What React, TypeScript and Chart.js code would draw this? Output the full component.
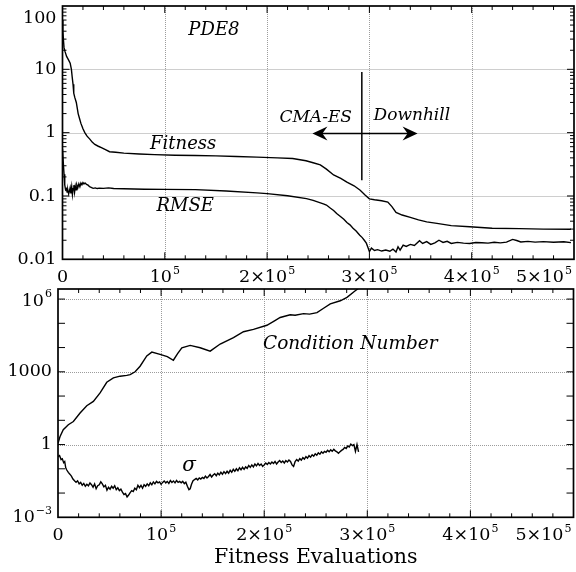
import React, { useEffect, useRef } from 'react';
import { Chart, registerables } from 'chart.js';

Chart.register(...registerables);

// ---------------- data ----------------
const fitnessEvals = [
  0, 400, 1000, 1500, 2500, 4000, 6000, 7500, 8700, 9500, 10300, 11000, 12000, 13500, 15300, 16500, 18000,
  20000, 21800, 24000, 26700, 29000, 31600, 35000, 38000, 42000, 46000, 52000, 60000, 75000, 90000, 110000,
  130000, 150000, 170000, 190000, 210000, 225000, 238000, 245000, 252000, 258000, 265000, 272000, 278000,
  285000, 291000, 296000, 300000, 305000, 312000, 318000, 322000, 326000, 332000, 340000, 348000, 356000,
  366000, 380000, 398000, 420000, 447000, 470000, 497000,
];
const fitnessValues = [
  60, 40, 28, 22, 19, 16, 14, 12.5, 10, 7.5, 5.8, 4.2, 3.6, 3.0, 2.0, 1.7, 1.4,
  1.15, 1.0, 0.88, 0.79, 0.71, 0.65, 0.61, 0.58, 0.54, 0.5, 0.49, 0.475, 0.46, 0.45, 0.44,
  0.435, 0.43, 0.42, 0.41, 0.4, 0.39, 0.36, 0.335, 0.31, 0.265, 0.215, 0.19, 0.165,
  0.145, 0.123, 0.103, 0.09, 0.087, 0.084, 0.08, 0.068, 0.055, 0.05, 0.046, 0.042, 0.039,
  0.037, 0.034, 0.0326, 0.031, 0.0305, 0.03, 0.0298,
];

const rmseEvals = [
  0, 700, 1500, 2200, 3000, 3800, 4500, 5200, 6000, 6800, 7500, 8200, 9000, 9700, 10400, 11100, 11800,
  12500, 13200, 14000, 15000, 16000, 17000, 18000, 19000, 20000, 21000, 22000, 23500, 25000, 26500, 28000,
  30000, 32000, 34000, 36000, 40000, 45000, 50000, 60000, 80000, 100000, 130000, 160000, 190000, 200000,
  220000, 238500, 245000, 250000, 255000, 258000, 262000, 265000, 268000, 272000, 275000, 278000, 281000,
  284000, 287000, 290600, 293000, 295000, 297000, 298500, 300000, 302000, 305000, 308000, 312000, 316000,
  320000, 323000, 326000, 328000, 330000, 333000, 336000, 340000, 344000, 349000, 352000, 356000, 360000,
  364000, 368000, 372000, 376000, 380000, 386000, 392000, 398000, 404000, 410000, 416000, 422000, 428000,
  434000, 440000, 444000, 448000, 455000, 462000, 470000, 480000, 490000, 497000,
];
const rmseValues = [
  0.55, 0.35, 0.22, 0.15, 0.125, 0.13, 0.115, 0.125, 0.108, 0.12, 0.135, 0.11, 0.14, 0.105, 0.13, 0.148, 0.115,
  0.142, 0.125, 0.15, 0.135, 0.155, 0.14, 0.16, 0.15, 0.163, 0.155, 0.16, 0.152, 0.148, 0.14, 0.137,
  0.132, 0.134, 0.131, 0.133, 0.132, 0.134, 0.131, 0.13, 0.128, 0.127, 0.126, 0.12, 0.112, 0.109,
  0.101, 0.091, 0.085, 0.08, 0.075, 0.072, 0.064, 0.059, 0.053, 0.047, 0.043, 0.038, 0.035,
  0.031, 0.028, 0.024, 0.022, 0.02, 0.018, 0.0155, 0.0132, 0.015, 0.0138, 0.0142, 0.0135, 0.014,
  0.0134, 0.0145, 0.013, 0.0158, 0.014, 0.0168, 0.016, 0.0172, 0.0165, 0.0196, 0.0178, 0.019, 0.0172,
  0.0182, 0.02, 0.0185, 0.0192, 0.0178, 0.0185, 0.018, 0.0178, 0.0184, 0.0183, 0.018, 0.0186, 0.0182,
  0.0187, 0.0206, 0.0198, 0.0188, 0.0192, 0.0187, 0.019, 0.0186, 0.0189, 0.0183,
];

const condEvals = [
  0, 1900, 5100, 10000, 14900, 21400, 27900, 34300, 40800, 47300, 53700, 60200, 66700, 70000, 74800, 79600,
  86100, 91000, 99000, 106000, 111900, 116000, 120100, 128200, 137900, 147600, 157300, 170200, 179900,
  189600, 202600, 210000, 215500, 225200, 230000, 238200, 244000, 251200, 257600, 264100, 273800, 280300,
  288300, 293200, 297000,
];
const condValues = [
  1.12, 2.1, 4.1, 6.6, 8.9, 20, 40, 60, 135, 370, 560, 660, 710, 760, 1000, 1700,
  4500, 6500, 5200, 4200, 3000, 5600, 9800, 12300, 9800, 7100, 14000, 25700, 45000,
  56000, 83000, 126000, 174000, 224000, 214000, 251000, 240000, 275000, 417000, 631000, 851000, 1170000,
  2190000, 3160000, 4500000,
];

const sigmaEvals = [
  0, 1500, 3000, 4200, 5500, 6500, 7500, 8500, 10000, 11500, 13000, 14500, 16000, 17500, 19000, 20500,
  22000, 23500, 25000, 26500, 28000, 29500, 31000, 32500, 34000, 35500, 37000, 38500, 40000, 41500, 43000,
  44500, 46000, 47500, 49000, 50500, 52000, 53500, 55000, 56500, 58000, 59500, 61000, 62500, 64000, 65500,
  67000, 68500, 70000, 71500, 73000, 74500, 76000, 77500, 79000, 80500, 82000, 83500, 85000, 86500, 88000,
  89500, 91000, 92500, 94000, 95500, 97000, 98500, 100000, 101500, 103000, 104500, 106000, 107500, 109000,
  110500, 112000, 113500, 115000, 116500, 118000, 119500, 121000, 122500, 124000, 125500, 127000, 128200,
  129500, 131000, 132500, 134000, 135500, 137000, 138500, 140000, 141500, 143000, 144500, 146000, 147500,
  149000, 150500, 152000, 153500, 155000, 156500, 158000, 159500, 161000, 162500, 164000, 165500, 167000,
  168500, 170000, 171500, 173000, 174500, 176000, 177500, 179000, 180500, 182000, 183500, 185000, 186500,
  188000, 189500, 191000, 192500, 194000, 195500, 197000, 198500, 200000, 201500, 203000, 204500, 206000,
  207500, 209000, 210500, 212000, 213500, 215000, 216500, 218000, 219500, 221000, 222500, 224000, 225500,
  227000, 228500, 230000, 231500, 233000, 234500, 236000, 237500, 239000, 240500, 242000, 243500, 245000,
  246500, 248000, 249500, 251000, 252500, 254000, 255500, 257000, 258500, 260000, 261500, 263000, 264500,
  266000, 267500, 269000, 270500, 272000, 273500, 275000, 276500, 278000, 279500, 281000, 282500, 284000,
  285500, 287000, 288500, 290000, 291500,
];
const sigmaValues = [
  0.32, 0.35, 0.24, 0.26, 0.18, 0.2, 0.11, 0.089, 0.071, 0.06, 0.05, 0.038, 0.032, 0.028, 0.032, 0.024,
  0.0275, 0.021, 0.025, 0.019, 0.023, 0.02, 0.026, 0.022, 0.0174, 0.024, 0.0151, 0.02, 0.022, 0.029, 0.024,
  0.018, 0.021, 0.0132, 0.0174, 0.0145, 0.019, 0.0158, 0.02, 0.0138, 0.0166, 0.0126, 0.0145, 0.011, 0.0087, 0.0095,
  0.0069, 0.0083, 0.0105, 0.0126, 0.0115, 0.0158, 0.0138, 0.021, 0.0166, 0.0209, 0.0158, 0.0219, 0.019, 0.024, 0.02,
  0.0263, 0.0219, 0.0288, 0.024, 0.0302, 0.0263, 0.0288, 0.0229, 0.0275, 0.0316, 0.0263, 0.0302, 0.0251, 0.0331,
  0.0275, 0.0316, 0.0263, 0.0331, 0.0275, 0.0302, 0.0263, 0.0302, 0.0245, 0.0282, 0.0191, 0.0138, 0.0151,
  0.0229, 0.032, 0.036, 0.04, 0.035, 0.042, 0.038, 0.044, 0.04, 0.05, 0.042, 0.048, 0.058,
  0.046, 0.055, 0.063, 0.052, 0.066, 0.056, 0.072, 0.06, 0.076, 0.063, 0.079, 0.066, 0.087,
  0.072, 0.095, 0.079, 0.1, 0.083, 0.11, 0.091, 0.115, 0.095, 0.12, 0.105, 0.138, 0.115,
  0.145, 0.12, 0.158, 0.132, 0.166, 0.138, 0.158, 0.126, 0.145, 0.174, 0.151, 0.182, 0.158,
  0.19, 0.166, 0.2, 0.158, 0.19, 0.219, 0.182, 0.209, 0.174, 0.219, 0.19, 0.229, 0.2,
  0.145, 0.126, 0.2, 0.24, 0.209, 0.263, 0.229, 0.288, 0.251, 0.316, 0.275, 0.347, 0.302,
  0.38, 0.331, 0.417, 0.363, 0.457, 0.398, 0.501, 0.437, 0.525, 0.479, 0.575, 0.501, 0.603,
  0.525, 0.631, 0.55, 0.501, 0.437, 0.501, 0.575, 0.631, 0.759, 0.692, 0.871, 0.794, 1.05,
  0.912, 1.0, 0.525, 1.0, 0.501,
];

// tick labels: [base, exponent]
const xTickValues = [0, 100000, 200000, 300000, 400000, 500000];
const xTickLabels: [string, string][] = [['0', ''], ['10', '5'], ['2×10', '5'], ['3×10', '5'], ['4×10', '5'], ['5×10', '5']];
const topYTickValues = [0.01, 0.1, 1, 10, 100];
const topYTickLabels: [string, string][] = [['0.01', ''], ['0.1', ''], ['1', ''], ['10', ''], ['100', '']];
const bottomYTickValues = [0.001, 1, 1000, 1000000];
const bottomYTickLabels: [string, string][] = [['10', '−3'], ['1', ''], ['1000', ''], ['10', '6']];

const SERIF = "'DejaVu Serif', serif";

type Txt = { x: number; y: number; text: string; font: string };
type Cfg = {
  gridX: number[]; gridY: number[];
  yMajor: number[]; yMinor: number[];
  yTickValues: number[]; yTickLabels: [string, string][];
  texts: Txt[];
  arrow?: { x1: number; x2: number; y: number };
  vline?: { x: number; y1: number; y2: number };
  xTitle?: string;
  titleY?: number;
};

const xMinorTicks: number[] = [];
for (let v = 20000; v < 500000; v += 20000) if (v % 100000 !== 0) xMinorTicks.push(v);
const xMajorTicks = [100000, 200000, 300000, 400000];

const LABEL_SIZE = 17.5;

function measureLabel(ctx: CanvasRenderingContext2D, base: string, exp: string) {
  ctx.font = `${LABEL_SIZE}px ${SERIF}`;
  const wb = ctx.measureText(base).width;
  ctx.font = `${Math.round(LABEL_SIZE * 0.65)}px ${SERIF}`;
  const we = exp ? ctx.measureText(exp).width + 1 : 0;
  return { wb, total: wb + we };
}
function drawLabel(ctx: CanvasRenderingContext2D, base: string, exp: string, left: number, cy: number) {
  const { wb } = measureLabel(ctx, base, exp);
  ctx.textAlign = 'left';
  ctx.textBaseline = 'middle';
  ctx.font = `${LABEL_SIZE}px ${SERIF}`;
  ctx.fillText(base, left, cy);
  if (exp) {
    ctx.font = `${Math.round(LABEL_SIZE * 0.65)}px ${SERIF}`;
    ctx.fillText(exp, left + wb + 1, cy - 6.5);
  }
}

function makeDecor(cfg: Cfg) {
  return {
    id: 'decor',
    beforeDatasetsDraw(chart: any) {
      const { ctx, chartArea: a, scales } = chart;
      const xs = scales.x, ys = scales.y;
      ctx.save();
      ctx.strokeStyle = '#9c9c9c';
      ctx.lineWidth = 1;
      ctx.setLineDash([1, 1]);
      ctx.beginPath();
      for (const v of cfg.gridX) {
        const p = Math.round(xs.getPixelForValue(v)) + 0.5;
        ctx.moveTo(p, a.top); ctx.lineTo(p, a.bottom);
      }
      for (const v of cfg.gridY) {
        const p = Math.round(ys.getPixelForValue(v)) + 0.5;
        ctx.moveTo(a.left, p); ctx.lineTo(a.right, p);
      }
      ctx.stroke();
      ctx.restore();
    },
    afterDatasetsDraw(chart: any) {
      const { ctx, chartArea: a, scales } = chart;
      const xs = scales.x, ys = scales.y;
      ctx.save();
      ctx.strokeStyle = '#000';
      ctx.fillStyle = '#000';
      // ticks
      ctx.lineWidth = 1;
      ctx.beginPath();
      const xt = (v: number, len: number) => {
        const p = xs.getPixelForValue(v);
        ctx.moveTo(p, a.bottom); ctx.lineTo(p, a.bottom - len);
        ctx.moveTo(p, a.top); ctx.lineTo(p, a.top + len);
      };
      const yt = (v: number, len: number) => {
        const p = ys.getPixelForValue(v);
        ctx.moveTo(a.left, p); ctx.lineTo(a.left + len, p);
        ctx.moveTo(a.right, p); ctx.lineTo(a.right - len, p);
      };
      xMinorTicks.forEach((v) => xt(v, 4));
      xMajorTicks.forEach((v) => xt(v, 7));
      cfg.yMinor.forEach((v) => yt(v, 4));
      cfg.yMajor.forEach((v) => yt(v, 7));
      ctx.stroke();
      // frame
      ctx.lineWidth = 1.7;
      ctx.strokeRect(a.left, a.top, a.right - a.left, a.bottom - a.top);
      // tick labels
      xTickValues.forEach((v, i) => {
        const [b, e] = xTickLabels[i];
        const { total } = measureLabel(ctx, b, e);
        let cx = xs.getPixelForValue(v);
        cx = Math.min(cx, a.right - 2 - total / 2);
        drawLabel(ctx, b, e, cx - total / 2, a.bottom + 18);
      });
      cfg.yTickValues.forEach((v, i) => {
        const [b, e] = cfg.yTickLabels[i];
        const { total } = measureLabel(ctx, b, e);
        let cy = ys.getPixelForValue(v);
        cy = Math.max(cy, a.top + 12);
        drawLabel(ctx, b, e, a.left - 6 - total, cy);
      });
      // annotations
      ctx.textAlign = 'center';
      ctx.textBaseline = 'middle';
      for (const t of cfg.texts) {
        ctx.font = t.font;
        ctx.fillText(t.text, xs.getPixelForValue(t.x), ys.getPixelForValue(t.y));
      }
      if (cfg.xTitle) {
        ctx.font = `20.5px ${SERIF}`;
        ctx.fillText(cfg.xTitle, (a.left + a.right) / 2, cfg.titleY || a.bottom + 40);
      }
      if (cfg.vline) {
        const p = xs.getPixelForValue(cfg.vline.x);
        ctx.lineWidth = 1.5;
        ctx.beginPath();
        ctx.moveTo(p, ys.getPixelForValue(cfg.vline.y1));
        ctx.lineTo(p, ys.getPixelForValue(cfg.vline.y2));
        ctx.stroke();
      }
      if (cfg.arrow) {
        const x1 = xs.getPixelForValue(cfg.arrow.x1);
        const x2 = xs.getPixelForValue(cfg.arrow.x2);
        const y = ys.getPixelForValue(cfg.arrow.y);
        ctx.lineWidth = 1.5;
        ctx.beginPath();
        ctx.moveTo(x1 + 6, y); ctx.lineTo(x2 - 6, y);
        ctx.stroke();
        const head = (tip: number, dir: number) => {
          ctx.beginPath();
          ctx.moveTo(tip, y);
          ctx.lineTo(tip - dir * 15, y - 7);
          ctx.lineTo(tip - dir * 10, y);
          ctx.lineTo(tip - dir * 15, y + 7);
          ctx.closePath();
          ctx.fill();
        };
        head(x1, -1);
        head(x2, 1);
      }
      ctx.restore();
    },
  };
}

const topMinor: number[] = [];
for (const d of [0.01, 0.1, 1, 10]) for (let k = 2; k <= 9; k++) topMinor.push(k * d);

const ITAL = `italic 18px ${SERIF}`;

const topCfg: Cfg = {
  gridX: xMajorTicks, gridY: [0.1, 1, 10],
  yMajor: [0.1, 1, 10], yMinor: topMinor,
  yTickValues: topYTickValues, yTickLabels: topYTickLabels,
  texts: [
    { x: 148000, y: 42, text: 'PDE8', font: ITAL },
    { x: 118000, y: 0.66, text: 'Fitness', font: ITAL },
    { x: 120000, y: 0.069, text: 'RMSE', font: ITAL },
    { x: 247500, y: 1.76, text: 'CMA-ES', font: `italic 17px ${SERIF}` },
    { x: 341500, y: 1.89, text: 'Downhill', font: `italic 17px ${SERIF}` },
  ],
  arrow: { x1: 244300, x2: 347100, y: 0.97 },
  vline: { x: 292600, y1: 9.06, y2: 0.177 },
};

const bottomCfg: Cfg = {
  gridX: xMajorTicks, gridY: [1, 1000, 1000000],
  yMajor: [0.01, 0.1, 1, 10, 100, 1000, 10000, 100000, 1000000], yMinor: [],
  yTickValues: bottomYTickValues, yTickLabels: bottomYTickLabels,
  texts: [
    { x: 283500, y: 13500, text: 'Condition Number', font: `italic 18.5px ${SERIF}` },
    { x: 127200, y: 0.131, text: 'σ', font: `italic 20px ${SERIF}` },
  ],
  xTitle: 'Fitness Evaluations',
  titleY: 272,
};

function pts(xs: number[], ys: number[]) {
  return xs.map((x, i) => ({ x, y: ys[i] }));
}

function lineDs(data: { x: number; y: number }[]) {
  return {
    data,
    borderColor: '#000',
    borderWidth: 1.4,
    pointRadius: 0,
    tension: 0,
    fill: false,
  };
}

function Panel(props: {
  top: number; height: number; padding: any; ymin: number; ymax: number; datasets: any[]; cfg: Cfg;
}) {
  const ref = useRef<HTMLCanvasElement>(null);
  useEffect(() => {
    if (!ref.current) return;
    const chart = new Chart(ref.current, {
      type: 'line',
      data: { datasets: props.datasets },
      options: {
        responsive: false,
        animation: false,
        events: [],
        layout: { padding: props.padding },
        plugins: { legend: { display: false }, tooltip: { enabled: false } },
        scales: {
          x: { type: 'linear', min: 0, max: 500000, display: false },
          y: { type: 'logarithmic', min: props.ymin, max: props.ymax, display: false },
        },
      },
      plugins: [makeDecor(props.cfg)],
    } as any);
    return () => chart.destroy();
  }, []);
  return (
    <canvas
      ref={ref}
      width={576}
      height={props.height}
      style={{ position: 'absolute', left: 0, top: props.top, width: 576, height: props.height }}
    />
  );
}

export default function App() {
  return (
    <div style={{ position: 'fixed', left: 0, top: 0, width: 576, height: 572, background: '#fff' }}>
      <Panel
        top={0}
        height={286}
        padding={{ left: 62.5, right: 2, top: 6, bottom: 26.7 }}
        ymin={0.01}
        ymax={100}
        datasets={[lineDs(pts(fitnessEvals, fitnessValues)), lineDs(pts(rmseEvals, rmseValues))]}
        cfg={topCfg}
      />
      <Panel
        top={286}
        height={286}
        padding={{ left: 58, right: 2.5, top: 3, bottom: 54.7 }}
        ymin={0.001}
        ymax={2600000}
        datasets={[lineDs(pts(condEvals, condValues)), lineDs(pts(sigmaEvals, sigmaValues))]}
        cfg={bottomCfg}
      />
    </div>
  );
}
